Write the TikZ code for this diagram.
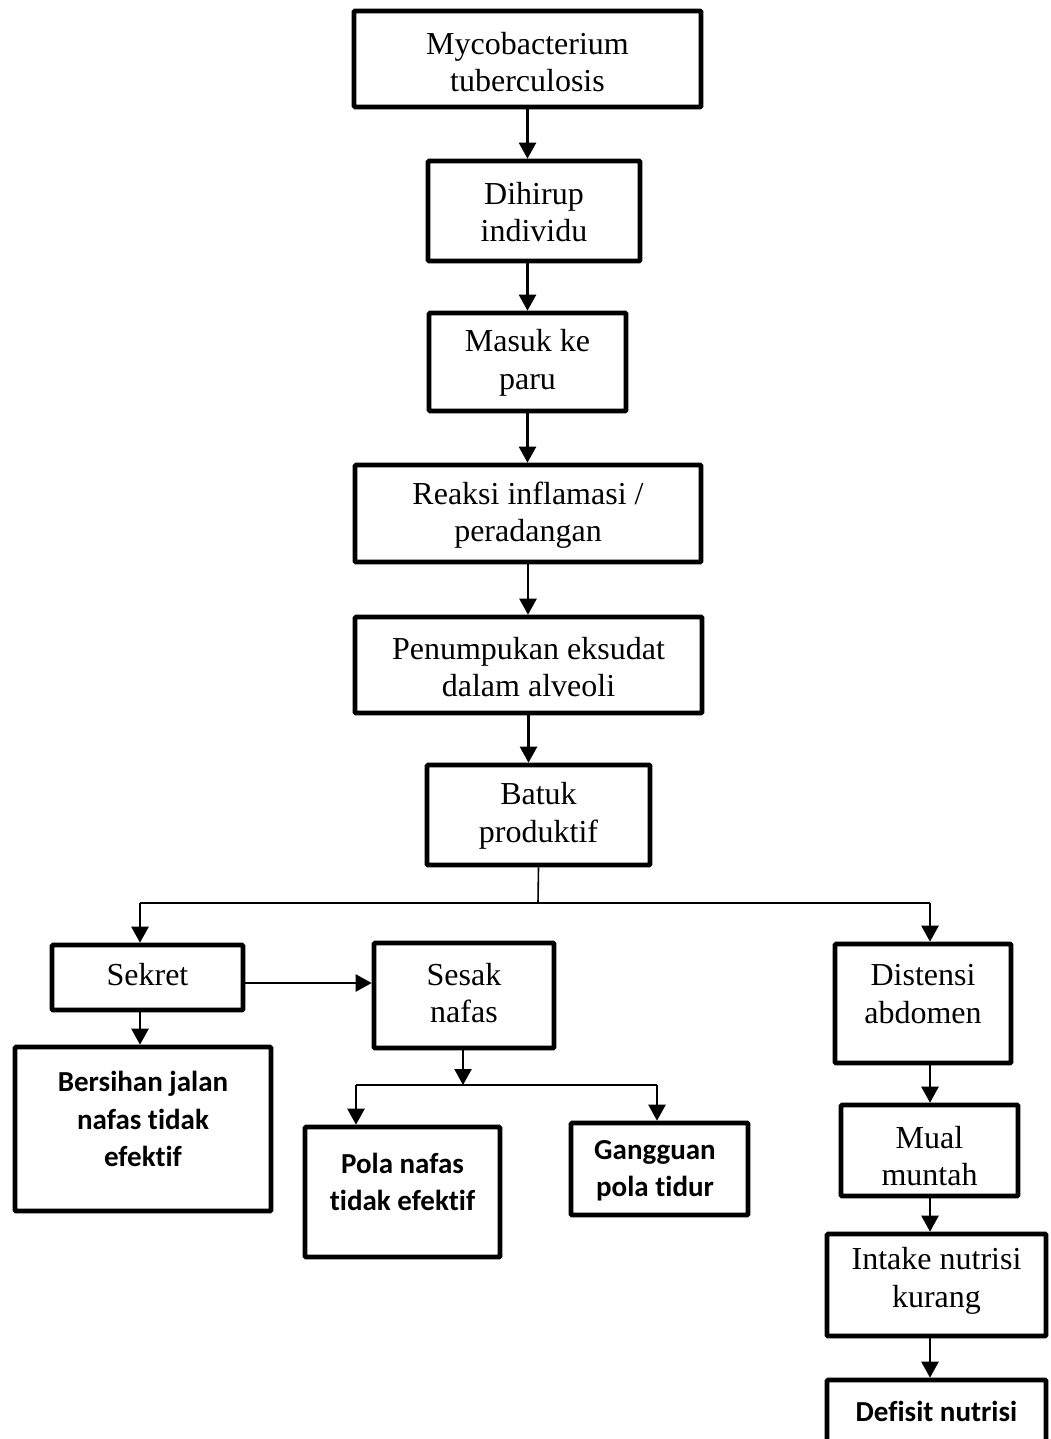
\documentclass[tikz,border=0pt]{standalone}
\usepackage{fontspec}
\setmainfont{Liberation Serif}
\newfontfamily\carlito{Carlito}[Ligatures={NoCommon}]
\usetikzlibrary{arrows.meta}
\begin{document}
\begin{tikzpicture}[x=1pt,y=-1pt,
  box/.style={draw=black, line width=4.6pt, rounded corners=1pt, fill=white, inner sep=0pt},
  txt/.style={align=center, inner sep=0pt, font=\fontsize{32}{37.5}\selectfont},
  btxt/.style={align=center, inner sep=0pt, font=\carlito\bfseries\fontsize{29}{37.5}\selectfont},
  arr/.style={line width=2.4pt, -{Triangle[length=16pt,width=17pt]}},
  branch/.style={line width=1.6pt}]
\useasboundingbox (0,0) rectangle (1050,1439);
\clip (0,0) rectangle (1050,1439);
\fill[white] (0,0) rectangle (1050,1439);

% boxes
\node[box, minimum width=347pt, minimum height=96pt] (myco) at (527.5,59) {};
\node[box, minimum width=212pt, minimum height=100pt] (dihirup) at (534,211) {};
\node[box, minimum width=197pt, minimum height=98pt] (masuk) at (527.5,362) {};
\node[box, minimum width=346pt, minimum height=97pt] (reaksi) at (528,513.5) {};
\node[box, minimum width=347pt, minimum height=96pt] (penum) at (528.5,665) {};
\node[box, minimum width=223pt, minimum height=100pt] (batuk) at (538.5,815) {};
\node[box, minimum width=191pt, minimum height=65pt] (sekret) at (147.5,977.5) {};
\node[box, minimum width=180pt, minimum height=105pt] (sesak) at (464,995.5) {};
\node[box, minimum width=256pt, minimum height=164pt] (bersihan) at (143,1129) {};
\node[box, minimum width=195pt, minimum height=130pt] (pola) at (402.5,1192) {};
\node[box, minimum width=177pt, minimum height=92pt] (gangguan) at (659.5,1169) {};
\node[box, minimum width=176pt, minimum height=119pt] (distensi) at (923,1003.5) {};
\node[box, minimum width=177pt, minimum height=91pt] (mual) at (929.5,1150.5) {};
\node[box, minimum width=219pt, minimum height=102pt] (intake) at (936.5,1285) {};
\node[box, minimum width=219pt, minimum height=88pt] (defisit) at (936.5,1424) {};

% texts
\node[txt] (t-myco) at (527.5,62) {Mycobacterium\\tuberculosis};
\node[txt] (t-dihirup) at (534,212) {Dihirup\\individu};
\node[txt] (t-masuk) at (527.5,363) {Masuk ke\\paru};
\node[txt] (t-reaksi) at (528,515) {Reaksi inflamasi /\\peradangan};
\node[txt] (t-penum) at (528.5,667) {Penumpukan eksudat\\dalam alveoli};
\node[txt] (t-batuk) at (538.5,816) {Batuk\\produktif};
\node[txt] (t-sekret) at (147.5,975) {Sekret};
\node[txt] (t-sesak) at (464,993) {Sesak\\nafas};
\node[txt] (t-distensi) at (923,994) {Distensi\\abdomen};
\node[txt] (t-mual) at (929.5,1156) {Mual\\muntah};
\node[txt] (t-intake) at (936.5,1281) {Intake nutrisi\\kurang};
\node[btxt] (t-bersihan) at (143,1119) {Bersihan jalan\\nafas tidak\\efektif};
\node[btxt] (t-pola) at (402.5,1182) {Pola nafas\\tidak efektif};
\node[btxt] (t-gangguan) at (655,1171) {Gangguan\\pola tidur};
\node[btxt] (t-defisit) at (936.5,1411) {Defisit nutrisi};

% main chain
\draw[arr] (myco.south) -- (myco.south |- dihirup.north);
\draw[arr] (masuk.north |- dihirup.south) -- (masuk.north);
\draw[arr] (masuk.south) -- (masuk.south |- reaksi.north);
\draw[arr] (reaksi.south) -- (reaksi.south |- penum.north);
\draw[arr] (penum.south) -- (penum.south |- batuk.north);

% branch from batuk
\coordinate (j1) at (538,903);
\coordinate (jl) at (140,903);
\coordinate (jr) at (930,903);
\draw[branch] (batuk.south) -- (j1);
\draw[branch] (jl) -- (jr);
\draw[arr] (jl) -- (jl |- sekret.north);
\draw[arr] (jr) -- (jr |- distensi.north);

% sekret
\draw[arr] (sekret.east |- 0,983) -- (sesak.west |- 0,983);
\draw[arr] (sekret.south -| jl) -- (jl |- bersihan.north);

% sesak branch
\coordinate (j2) at (463,1085);
\coordinate (j2l) at (356,1085);
\coordinate (j2r) at (657,1085);
\draw[arr] (sesak.south -| j2) -- (j2);
\draw[branch] (j2l) -- (j2r);
\draw[arr] (j2l) -- (j2l |- pola.north);
\draw[arr] (j2r) -- (j2r |- gangguan.north);

% right chain
\draw[arr] (distensi.south -| jr) -- (jr |- mual.north);
\draw[arr] (mual.south -| jr) -- (jr |- intake.north);
\draw[arr] (intake.south -| jr) -- (jr |- defisit.north);
\end{tikzpicture}
\end{document}
